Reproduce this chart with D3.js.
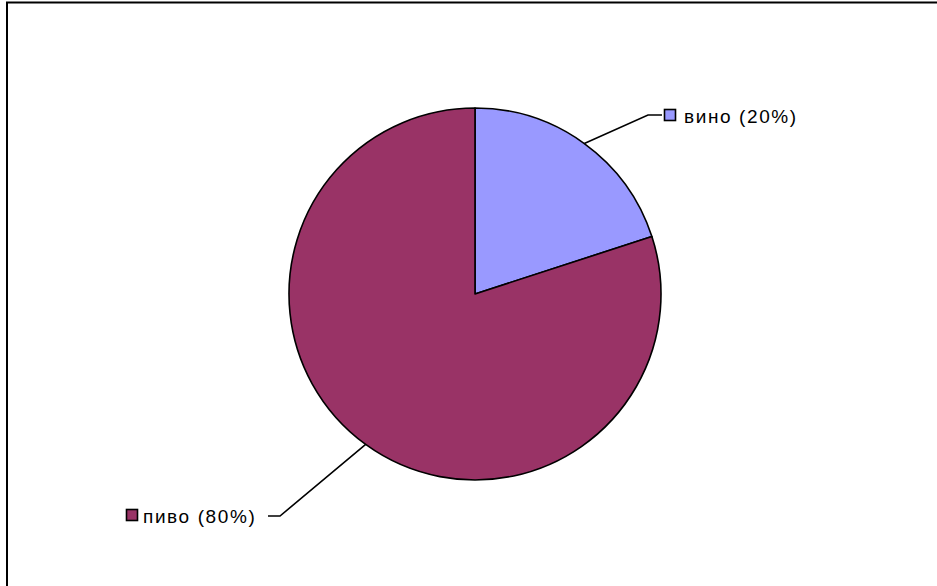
<!DOCTYPE html>
<html><head><meta charset="utf-8">
<script src="https://cdn.jsdelivr.net/npm/d3@7"></script>
<style>body{margin:0;background:#fff}svg{display:block}</style>
</head><body>
<script>
const categories = ["вино", "пиво"];
const values = [20, 80];
const colors = ["#9999FF", "#993366"];

const W = 937, H = 586;
const svg = d3.select("body").append("svg").attr("width", W).attr("height", H);
svg.append("rect").attr("width", W).attr("height", H).attr("fill", "#fff");
// chart area border
svg.append("path").attr("d", `M7,${H+5} L7,2.5 L${W+5},2.5`).attr("fill","none").attr("stroke","#000").attr("stroke-width",2);

const cx = 475, cy = 294, r = 186;
const g = svg.append("g").attr("transform", `translate(${cx},${cy})`);
const pie = d3.pie().sort(null).value(d => d)(values);
const arc = d3.arc().innerRadius(0).outerRadius(r);
g.selectAll("path.slice").data(pie).join("path").attr("class","slice")
  .attr("d", arc).attr("fill", (d,i) => colors[i]).attr("stroke","#000").attr("stroke-width",1.6).attr("stroke-linejoin","round");

const total = d3.sum(values);
const labels = [
  {end:[648,115], tail:[662,115], box:[664,109], text:[684,123]},
  {end:[280,516], tail:[268,516], box:[126,509], text:[143,523]}
];
pie.forEach((d,i) => {
  const a = (d.startAngle + d.endAngle)/2;
  const p = [cx + r*Math.sin(a), cy - r*Math.cos(a)];
  const L = labels[i];
  svg.append("polyline").attr("points", [p, L.end, L.tail].map(q=>q.join(",")).join(" "))
    .attr("fill","none").attr("stroke","#000").attr("stroke-width",1.6);
  svg.append("rect").attr("x", L.box[0]+0.5).attr("y", L.box[1]+0.5).attr("width", 11).attr("height", 11)
    .attr("fill", colors[i]).attr("stroke","#000").attr("stroke-width",1.6);
  svg.append("text").attr("x", L.text[0]).attr("y", L.text[1])
    .attr("font-family","Arial, 'Liberation Sans', sans-serif").attr("font-size",19)
    .attr("letter-spacing", 1.6).attr("fill","#000")
    .text(`${categories[i]} (${Math.round(values[i]/total*100)}%)`);
});
</script>
</body></html>
